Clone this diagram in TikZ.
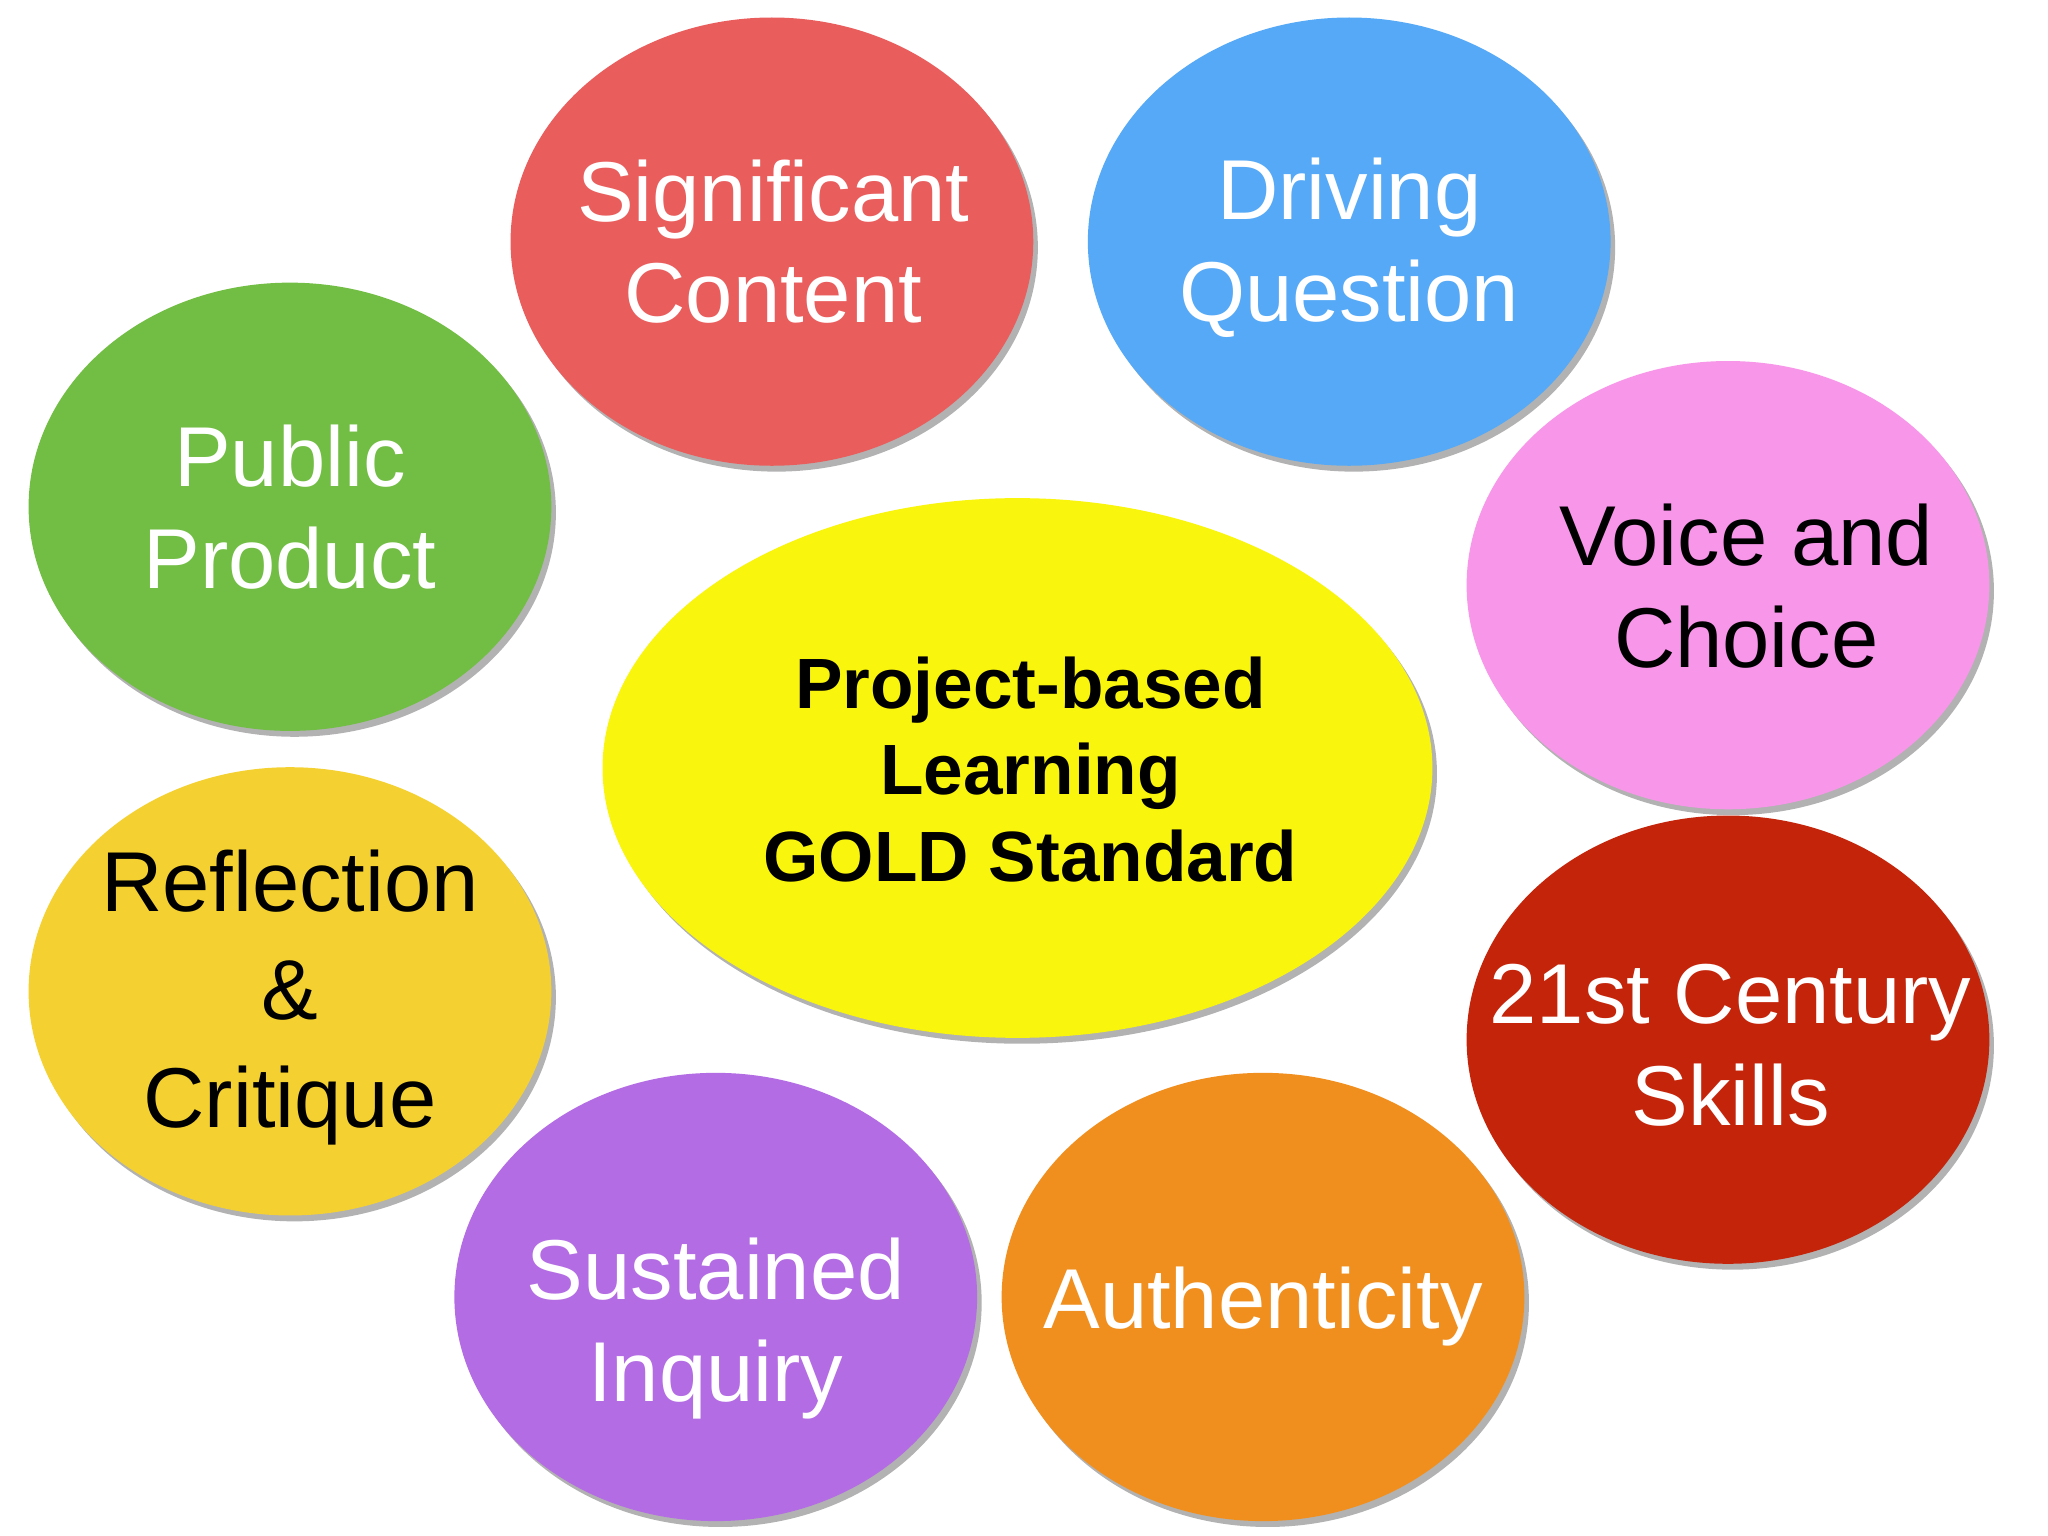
\documentclass[tikz,border=0pt]{standalone}
\usepackage{fontspec}
\setmainfont{Liberation Sans}
\usetikzlibrary{shapes.geometric,shadows}
\definecolor{cred}{HTML}{EA5D5D}
\definecolor{cblue}{HTML}{55A9F6}
\definecolor{cgreen}{HTML}{72BE44}
\definecolor{cpink}{HTML}{F896E9}
\definecolor{cyellow}{HTML}{FAF50C}
\definecolor{cgold}{HTML}{F4D130}
\definecolor{cdark}{HTML}{C4240A}
\definecolor{cpurple}{HTML}{B36CE3}
\definecolor{corange}{HTML}{F18F1E}
\tikzset{
  bubble/.style={ellipse, inner sep=0pt, minimum width=4cm, minimum height=3.43cm,
    fill=#1, drop shadow={shadow xshift=0.035cm, shadow yshift=-0.045cm, fill=black, opacity=0.3}},
  lbl/.style={align=center, inner sep=0pt, text=#1, font=\fontsize{18.5}{22.2}\selectfont},
  clbl/.style={align=center, inner sep=0pt, text=black, font=\fontsize{15.5}{18.8}\selectfont\bfseries},
}
\begin{document}
\begin{tikzpicture}[x=0.01cm,y=-0.01cm]
\fill[white] (0,0) rectangle (1568,1176);
\useasboundingbox (0,0) rectangle (1568,1176);
% bubbles
\node[bubble=cred] (sig) at (591,185) {};
\node[bubble=cblue] (drv) at (1033,185) {};
\node[bubble=cgreen] (pub) at (222,388) {};
\node[bubble=cpink] (voi) at (1323,448) {};
\node[bubble=cyellow, minimum width=6.35cm, minimum height=4.13cm] (ctr) at (779,588) {};
\node[bubble=cgold] (ref) at (222,759) {};
\node[bubble=cdark] (c21) at (1323,796) {};
\node[bubble=cpurple] (sus) at (548,993) {};
\node[bubble=corange] (aut) at (967,993) {};
% labels
\node[lbl=white] (tsig) at (592,185) {Significant\\Content};
\node[lbl=white] (tdrv) at (1033,190) {Driving\\Question};
\node[lbl=white] (tpub) at (222,388) {Public\\Product};
\node[lbl=black] (tvoi) at (1337,449) {Voice and\\Choice};
\node[clbl] (tctr) at (789,589) {Project-based\\Learning\\GOLD Standard};
\node[lbl=black, font=\fontsize{18.5}{23.5}\selectfont] (tref) at (222,764) {Reflection\\\&\\Critique};
\node[lbl=white] (tc21) at (1325,800) {21st Century\\Skills};
\node[lbl=white] (tsus) at (548,1017) {Sustained\\Inquiry};
\node[lbl=white] (taut) at (967,1000) {Authenticity};
\end{tikzpicture}
\end{document}
